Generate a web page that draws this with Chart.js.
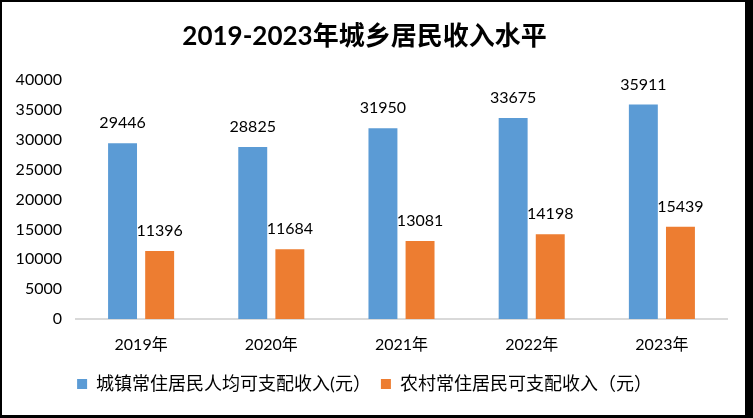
<!DOCTYPE html>
<html>
<head>
<meta charset="utf-8">
<script src="https://cdn.jsdelivr.net/npm/chart.js@4/dist/chart.umd.min.js"></script>
<style>
  html, body { margin: 0; padding: 0; background: #fff; }
  #wrap {
    position: absolute; left: 0; top: 0;
    width: 753px; height: 418px;
    box-sizing: border-box;
    border-style: solid; border-color: #000;
    border-width: 2px 8px 3px 2px;
  }
  #chart { display: block; }
</style>
</head>
<body>
<div id="wrap"><canvas id="chart"></canvas></div>
<script>
const years = ["2019年", "2020年", "2021年", "2022年", "2023年"]
const urbanIncome = [29446, 28825, 31950, 33675, 35911]
const ruralIncome = [11396, 11684, 13081, 14198, 15439]
const seriesNames = ["城镇常住居民人均可支配收入(元）", "农村常住居民可支配收入（元）"]
const titleText = "2019-2023年城乡居民收入水平"

const FONT = "Lato, 'Noto Sans CJK SC', sans-serif"

// draws the value above each bar
const barValueLabels = {
  id: "barValueLabels",
  afterDatasetsDraw(chart) {
    const ctx = chart.ctx
    ctx.save()
    ctx.font = "16px " + FONT
    ctx.fillStyle = "#000"
    ctx.textAlign = "center"
    ctx.textBaseline = "bottom"
    chart.data.datasets.forEach((ds, i) => {
      chart.getDatasetMeta(i).data.forEach((bar, j) => {
        ctx.fillText(String(ds.data[j]), bar.x, bar.y - 12)
      })
    })
    ctx.restore()
  }
}

const canvas = document.getElementById("chart")
canvas.width = 743
canvas.height = 413

new Chart(canvas, {
  type: "bar",
  data: {
    labels: years,
    datasets: [
      { label: seriesNames[0], data: urbanIncome, backgroundColor: "#5B9BD5" },
      { label: seriesNames[1], data: ruralIncome, backgroundColor: "#ED7D31" }
    ]
  },
  options: {
    responsive: false,
    animation: false,
    devicePixelRatio: 1,
    categoryPercentage: 0.57,
    barPercentage: 0.78,
    layout: { padding: { left: 0, right: 18, top: 0, bottom: 12 } },
    scales: {
      x: {
        grid: { display: false, drawTicks: false },
        border: { display: true, color: "#D9D9D9", width: 2 },
        ticks: { color: "#000", font: { family: FONT, size: 16 }, padding: 16 },
        afterFit: s => { s.height = 46 }
      },
      y: {
        min: 0,
        max: 40000,
        grid: { display: false, drawTicks: false },
        border: { display: false },
        ticks: {
          stepSize: 5000,
          color: "#000",
          font: { family: FONT, size: 16 },
          padding: 14,
          callback: v => String(v)
        },
        afterFit: s => { s.width = 74 }
      }
    },
    plugins: {
      title: {
        display: true,
        text: titleText,
        color: "#000",
        font: { family: FONT, size: 26, weight: "bold" },
        padding: { top: 19, bottom: 28 }
      },
      legend: {
        position: "bottom",
        labels: {
          color: "#000",
          font: { family: FONT, size: 18 },
          boxWidth: 10,
          boxHeight: 10,
          padding: 10
        }
      },
      tooltip: { enabled: false }
    }
  },
  plugins: [barValueLabels]
})
</script>
</body>
</html>
